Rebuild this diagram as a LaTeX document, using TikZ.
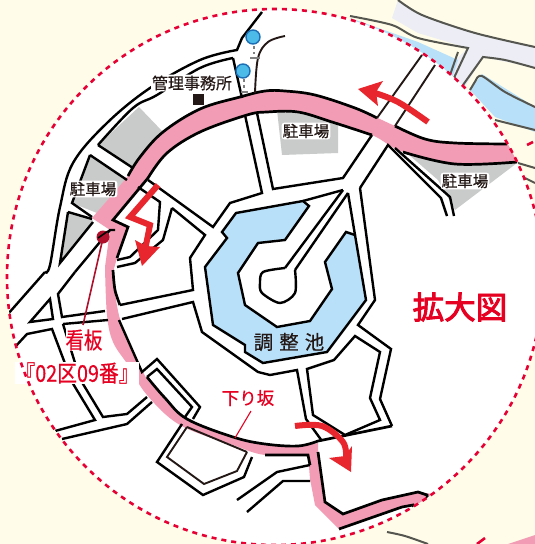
\documentclass[tikz,border=0pt]{standalone}
\usepackage{fontspec}
\usetikzlibrary{arrows.meta}
\setmainfont{Noto Sans CJK JP}
\newfontfamily\cjkbold[FakeBold=3]{Noto Sans CJK JP}
\newfontfamily\cjkmed[FakeBold=.5]{Noto Sans CJK JP}
\definecolor{creamc}{HTML}{FFFDE9}
\definecolor{pinkc}{HTML}{F29DB5}
\definecolor{grayc}{HTML}{C9CACA}
\definecolor{bluec}{HTML}{B8E0F8}
\definecolor{redc}{HTML}{E8262D}
\definecolor{labelred}{HTML}{E60021}
\definecolor{dashred}{HTML}{E60033}
\definecolor{darkred}{HTML}{B0102C}
\definecolor{inkc}{HTML}{231815}
\definecolor{lavc}{HTML}{ECEDF5}
\definecolor{markc}{HTML}{4DBBE8}
\definecolor{markb}{HTML}{1C6FB5}
\definecolor{oldink}{HTML}{55564F}
\tikzset{
  road/.style={draw=black,line width=2.4pt,line join=miter},
  thinroad/.style={draw=inkc,line width=1.9pt},
  edgeb/.style={draw=black,line width=2.7pt},
  oldmap/.style={draw=oldink,line width=2pt},
  park/.style={fill=grayc},
  parklabel/.style={fill=white,rounded corners=3pt,inner sep=1.2pt,text=inkc,font=\cjkmed\fontsize{15.5}{16}\selectfont},
  redlabel/.style={text=labelred,font=\cjkmed\fontsize{23}{24}\selectfont},
  redarrow/.style={draw=redc,line width=6pt},
  redhead/.style={fill=redc},
  stem/.style={draw=gray,line width=1.8pt},
}
\begin{document}
\begin{tikzpicture}[x=1pt,y=-1pt]
\useasboundingbox (0,0) rectangle (535,544);
\fill[creamc] (0,0) rectangle (535,544);
% old map outside the circle
\fill[lavc] (398,0) -- (422,15) -- (475,33) -- (535,47) -- (535,68) -- (483,57) -- (463,90) -- (445,70) -- (468,48) -- (418,33) -- (392,18) -- cycle;
\fill[bluec] (470,90) -- (482,74) -- (535,107) -- (535,132) -- (495,117) -- cycle;
\fill[bluec] (350,18) -- (418,42) -- (458,60) -- (452,78) -- (400,60) -- cycle;
\draw[oldmap] plot[smooth] coordinates {(398,0) (422,15) (475,33) (535,47)};
\draw[oldmap] plot[smooth] coordinates {(350,16) (392,25) (418,38) (468,48)} -- (453,80);
\draw[oldmap] (458,52) -- (450,75);
\draw[oldmap] plot[smooth] coordinates {(535,68) (505,60) (483,57)} -- (463,85);
\draw[oldmap] plot[smooth] coordinates {(535,107) (505,92) (482,76) (476,80)} -- (470,90);
\draw[oldmap] plot[smooth] coordinates {(495,120) (515,125) (535,130)};
\draw[oldmap] (518,163) -- (535,168);
\draw[oldmap] (525,178) -- (535,183);
\draw[dashred,line width=2.6pt] (527,145) -- (533,142);
\draw[dashred,line width=2.6pt] (477,544) -- (485,538);
\draw[oldmap] plot[smooth] coordinates {(387,532) (405,536) (428,544)};
\fill[pinkc] (508,544) -- (535,535) -- (535,544) -- cycle;
% white circle
\fill[white] (275,277) circle (268);
\begin{scope}
\clip (275,277) circle (268);
% parking
\fill[park] (98,145) -- (133,168) -- (163,132) -- (139,107) -- cycle;
\fill[park] (90,155) -- (125,180) -- (97,213) -- (72,203) -- cycle;
\fill[park] (68,212) -- (93,220) -- (60,263) -- cycle;
\fill[park] (277,110) -- (338,120) -- (338,153) -- (282,155) -- cycle;
\fill[park] (408,154) -- (455,165) -- (517,163) -- (455,210) -- (438,180) -- cycle;
% pond
\path[fill=bluec,road] (236,213) -- (303,201) -- (309,206) -- (285,240) -- (258,243) -- (238,273) -- (245,305) -- (277,327) -- (310,321) -- (332,289) -- (325,262) -- (346,232) -- (355,235) -- (366,300) -- (327,352) -- (263,363) -- (245,352) -- (245,345) -- (213,325) -- (205,267) -- (227,238) -- (222,232) -- cycle;
% pink route
\fill[pinkc] plot[smooth,tension=.6] coordinates {(545,145) (507,144) (455,143) (425,139) (395,126) (355,108) (315,95) (285,91) (265,91) (240,97) (200,109) (163,132) (140,157) (127,177) (92,218)}
  -- (110,230) -- (105,267)
  -- plot[smooth,tension=.6] coordinates {(105,267) (107,315) (113,342) (128,365) (147,395) (180,425) (233,445) (265,455) (308,455)}
  -- (310,479) -- (315,505) -- (339,529) -- (402,507) -- (413,505) -- (428,530) -- (440,495) -- (418,492) -- (382,500) -- (343,514) -- (325,502) -- (318,452) -- (318,443)
  -- plot[smooth,tension=.6] coordinates {(318,443) (298,446) (265,444) (233,438) (187,419) (157,390) (143,372) (120,319) (113,272)}
  -- (117,258) -- (128,227) -- (113,220) -- (148,178)
  -- plot[smooth,tension=.6] coordinates {(148,178) (167,153) (200,132) (247,115) (267,112) (298,112) (332,122) (372,135) (403,152) (455,164) (517,163) (545,163)} -- cycle;
% pink route edges
\draw[edgeb] plot[smooth,tension=.6] coordinates {(507,144) (455,143) (425,139) (395,126)};
\draw[edgeb] plot[smooth,tension=.6] coordinates {(377,118) (355,108) (315,95) (285,91) (265,91) (240,97) (200,109) (163,132) (140,157) (128,176)};
\draw[edgeb] plot[smooth,tension=.6] coordinates {(517,162) (455,164) (403,152)};
\draw[edgeb] plot[smooth,tension=.6] coordinates {(372,135) (332,122) (298,112) (267,112) (247,115) (200,132) (167,153) (148,178)} -- (113,220) -- (128,227) -- (117,258);
\draw[edgeb] plot[smooth,tension=.6] coordinates {(113,270) (115,290) (120,305)};
\draw[edgeb] plot[smooth,tension=.6] coordinates {(147,377) (165,398) (187,419) (233,437) (265,444) (298,446) (318,441)} -- (392,426);
\draw[thinroad] (187,427) -- (247,452);
\draw[edgeb] (265,455) -- (308,455) -- (310,465);
\draw[edgeb] (318,452) -- (325,502) -- (343,514) -- (382,500) -- (418,492) -- (427,495) -- (428,502);
\draw[edgeb] (339,529) -- (402,507) -- (413,505) -- (414,510);
% roads: top-left
\draw[road] plot[smooth,tension=.6] coordinates {(45,272) (50,265) (60,207) (73,163) (107,123) (150,88) (200,60) (237,50)} -- (242,38) -- (262,12);
\draw[road] plot[smooth,tension=.6] coordinates {(98,145) (133,108) (157,95) (200,68) (233,58)};
\draw[road] (98,145) -- (133,168);
\draw[road] (233,58) -- (242,98);
\draw[road] (90,155) -- (127,180);
\draw[road] (90,155) -- (72,203) -- (92,217);
\draw[road] (68,212) -- (92,219);
\draw[road] (68,212) -- (60,263) -- (93,222);
% access road with lights
\draw[thinroad] plot[smooth,tension=.6] coordinates {(285,36) (268,42) (258,58) (255,93)};
% below the route
\draw[road] (245,115) -- (262,193) -- (230,203) -- (213,227) -- (148,180);
\draw[road] (257,113) -- (273,189) -- (343,178) -- (372,135);
\draw[thinroad] (377,118) -- (422,55);
\draw[thinroad] (395,126) -- (435,65);
\draw[road] (360,188) -- (388,145) -- (441,198) -- (447,216);
\draw[road] (395,148) -- (450,197) -- (454,216);
\draw[road] (360,188) -- (375,300) -- (358,325) -- (391,349) -- (380,399) -- (392,426);
% pond extensions and inner road
\draw[road] (303,201) -- (343,190);
\draw[road] (348,193) -- (355,235);
\draw[road] (343,190) -- (285,268);
\draw[road] (348,193) -- (295,270);
\draw[road,line join=round] plot[smooth,tension=.5] coordinates {(285,268) (263,272) (260,283) (262,293) (280,303) (295,293) (295,270)};
% ring left
\draw[road] (172,208) -- (205,235) -- (190,258) -- (193,290) -- (120,305);
\draw[road] (172,208) -- (163,240) -- (135,263) -- (117,267);
\draw[road] (138,187) -- (160,202) -- (158,230) -- (130,257) -- (117,260);
\draw[road] (122,319) -- (193,302) -- (202,332) -- (258,372) -- (270,375) -- (297,370) -- (306,419) -- (322,441);
\draw[road] (307,369) -- (313,415) -- (345,435) -- (380,420) -- (370,398) -- (380,352) -- (355,336) -- (334,360) -- cycle;
% west side
\draw[road] (8,314) -- (45,272);
\draw[road] (75,272) -- (110,230) -- (115,230);
\draw[road] (75,272) -- (58,294) -- (62,317) -- (105,311);
\draw[road] (50,299) -- (30,322) -- (53,319) -- cycle;
\draw[road] (63,324) -- (108,320);
\draw[road] (15,347) -- (27,334) -- (52,329) -- (72,382) -- (95,420) -- (55,431);
\draw[road] (63,324) -- (80,379) -- (103,417) -- (127,414) -- (147,397);
\draw[road] (152,402) -- (127,424) -- (62,439);
% side loops of the lower route
\draw[road] (119,320) -- (142,372) -- (157,359) -- (200,407) -- (193,419);
\draw[road] (147,377) -- (157,369) -- (192,407) -- (185,417);
\draw[thinroad] (187,427) -- (167,457) -- (204,484) -- (237,471) -- (247,452);
\draw[road] (182,424) -- (157,462) -- (203,495) -- (244,477) -- (252,457);
\draw[road] (237,500) -- (277,472) -- (310,465);
\draw[road] (247,512) -- (283,481) -- (310,481);
\end{scope}
% blue lights
\draw[stem,dashed] (254,46) -- (254,54);
\draw[stem] (250,58) -- (260,58);
\draw[stem,dashed] (244,79) -- (244,88);
\draw[stem] (241,92) -- (248,92);
\path[fill=markc,draw=markb,line width=1.4pt] (253,37) circle (7);
\path[fill=markc,draw=markb,line width=1.4pt] (243,71) circle (7);
% sign
\fill[darkred] (103,237) circle (6.5);
\draw[darkred,line width=1.6pt] (103,238) -- (83,325);
\draw[black,line width=1.6pt] (98,238) -- (108,231);
% building
\fill[inkc] (192.5,94) rectangle (203.5,105);
% red arrows
\draw[redarrow] plot[smooth,tension=.6] coordinates {(428,122) (398,102) (372,92)};
\fill[redhead] (358,89) -- (383,81) -- (376,92) -- (378,106) -- cycle;
\draw[redarrow,line join=miter] (158,185) -- (130,217) -- (150,225) -- (145,250);
\fill[redhead] (142,266) -- (135,240) -- (146,246) -- (160,247) -- cycle;
\draw[redarrow] plot[smooth,tension=.6] coordinates {(295,426) (322,426) (343,442) (346,458)};
\fill[redhead] (351,472) -- (329,458) -- (345,456) -- (352,446) -- cycle;
\draw[labelred,line width=1.1pt] (251,411) -- (235,438);
% labels
\node[parklabel] (p1) at (93,189) {駐車場};
\node[parklabel] (p2) at (306,131) {駐車場};
\node[parklabel] (p3) at (465,181) {駐車場};
\node[fill=white,rounded corners=3pt,inner sep=1pt,text=inkc,font=\cjkmed\fontsize{16}{17}\selectfont] (office) at (192,83) {管理事務所};
\node[text=inkc,font=\cjkmed\fontsize{19.5}{20}\selectfont,inner sep=0pt] (pond) at (289,342) {調\hspace{6pt}整\hspace{6pt}池};
\node[redlabel,xscale=.8,inner sep=0pt,fill=white] (sign) at (84,340) {看板};
\node[redlabel,xscale=.86,inner sep=0pt,fill=white] (signno) at (77,373) {『02区09番』};
\node[text=labelred,font=\cjkmed\fontsize{17.5}{18}\selectfont,inner sep=0pt] (slope) at (248,398) {下り坂};
\node[text=labelred,font=\cjkbold\fontsize{31.5}{32}\selectfont,inner sep=0pt] (title) at (460,307) {拡大図};
% dashed circle
\draw[dashred,line width=2.6pt,dash pattern=on 5pt off 5pt] (275,277) circle (268);
\end{tikzpicture}
\end{document}
